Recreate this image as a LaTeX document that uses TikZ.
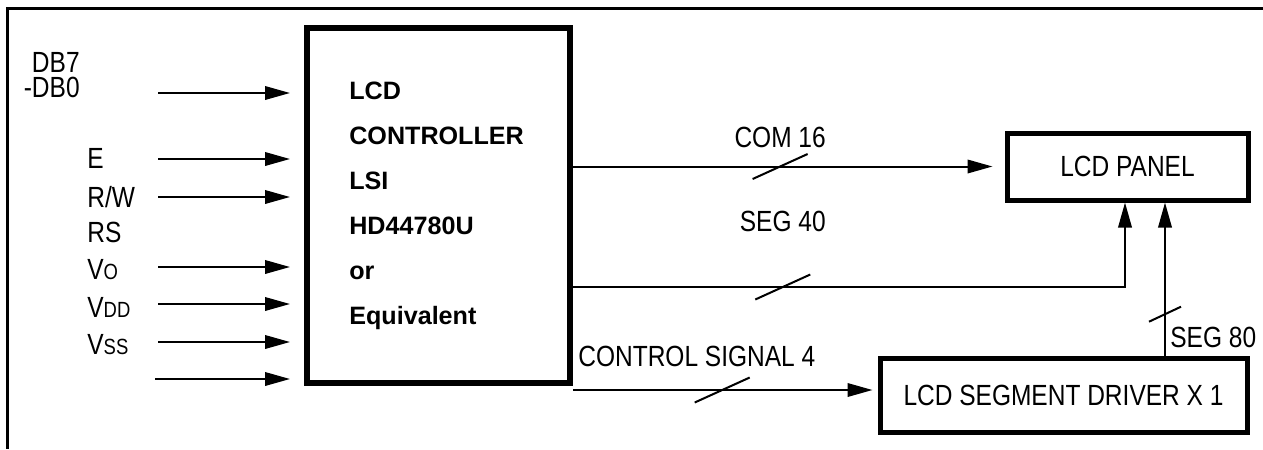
\documentclass[tikz,border=0pt]{standalone}
\usepackage{fontspec}
\setmainfont{Liberation Sans}[FakeStretch=0.84]
\newfontfamily\chipfont{Liberation Sans}
\usetikzlibrary{positioning,arrows.meta}

\tikzset{
  blk/.style={draw=black, line width=0.1cm, inner sep=0pt},
  sig/.style={line width=0.04cm, -{Triangle[length=0.5cm,width=0.27cm]}},
  lbl/.style={inner sep=0pt, font=\fontsize{16.6}{18}\selectfont},
  busmark/.style={line width=0.04cm},
}
\newcommand{\smcap}[1]{{\fontsize{12.5}{13}\selectfont #1}}

\begin{document}
\begin{tikzpicture}[x=0.2mm,y=-0.2mm]
\useasboundingbox (0,0) rectangle (1263,449);
\draw[line width=0.06cm] (1263,8) -- (7,8) -- (7,449);

% blocks
\node[blk, line width=0.12cm, minimum width=5.26cm, minimum height=7.1cm] (ctrl) at (438.5,205.5) {};
\node[inner sep=0pt, align=left, font=\chipfont\fontsize{14.3}{25.6}\selectfont\bfseries,
  right=0.9cm of ctrl.west] (ctrltxt) {LCD\\CONTROLLER\\LSI\\HD44780U\\or\\Equivalent};
\node[blk, lbl, minimum width=4.82cm, minimum height=1.34cm] (panel) at (1127.5,166.5) {LCD PANEL};
\node[blk, lbl, minimum width=7.34cm, minimum height=1.48cm] (driver) at (1063.5,395) {LCD SEGMENT DRIVER X 1};

% inputs
\node[lbl, align=right, font=\fontsize{16.6}{14.5}\selectfont, anchor=east] (db) at (80,75) {DB7\\-DB0};
\node[lbl, anchor=west] (le) at (87,158) {E};
\node[lbl, anchor=west] (lrw) at (87,197) {R/W};
\node[lbl, anchor=west] (lrs) at (87,232) {RS};
\node[lbl, anchor=west] (lvo) at (87,270) {V\smcap{O}};
\node[lbl, anchor=west] (lvdd) at (87,307) {V\smcap{DD}};
\node[lbl, anchor=west] (lvss) at (87,345) {V\smcap{SS}};
\foreach \y/\n in {93/db, 159/e, 197/rw, 267/vo, 304/vdd, 342/vss}
  {\coordinate (in\n) at (158,\y);
   \draw[sig, shorten >=0.28cm] (in\n) -- (in\n -| ctrl.west);}
\coordinate (inx) at (155,379);
\draw[sig, shorten >=0.28cm] (inx) -- (inx -| ctrl.west);

% outputs
\draw[sig, shorten >=0.24cm] (ctrl.east |- panel.west) -- coordinate[pos=0.48] (com16m) (panel.west);
\draw[busmark] (com16m) +(-27.5,12.5) -- +(27.5,-12.5);
\node[lbl, above=0.36cm of com16m] (com16) {COM 16};

\coordinate (seg40s) at ([yshift=-1.63cm]ctrl.east);
\coordinate (seg40t) at ([xshift=-0.05cm]panel.south);
\draw[sig] (seg40s) -| coordinate[pos=0.19] (seg40m) (seg40t);
\draw[busmark] (seg40m) +(-27.5,12.5) -- +(27.5,-12.5);
\node[lbl, above=1.1cm of seg40m] (seg40) {SEG 40};

\coordinate (cs) at ([yshift=-0.08cm]ctrl.south east);
\draw[sig, shorten >=0.1cm] (cs) -- coordinate[pos=0.49] (csm) (cs -| driver.west);
\draw[busmark] (csm) +(-27.5,12.5) -- +(27.5,-12.5);
\node[lbl, above right=0.46cm and 0.1cm of cs] (ctlsig) {CONTROL SIGNAL 4};

\coordinate (seg80s) at ([xshift=2.03cm]driver.north);
\draw[sig] (seg80s) -- coordinate[pos=0.27] (seg80m) (seg80s |- panel.south);
\draw[busmark] (seg80m) +(-16,7.5) -- +(16,-7.5);
\node[lbl, right=0.1cm of seg80s, yshift=0.36cm] (seg80) {SEG 80};
\end{tikzpicture}
\end{document}
